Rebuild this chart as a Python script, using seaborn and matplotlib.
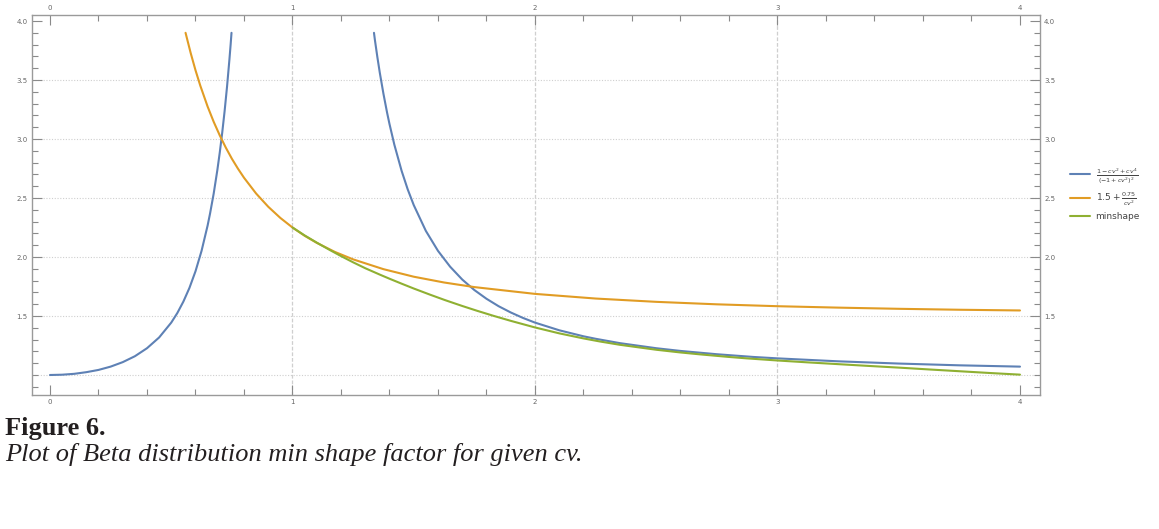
import matplotlib
matplotlib.use("Agg")
import matplotlib.pyplot as plt
from matplotlib.ticker import MultipleLocator, FixedLocator, FixedFormatter
import seaborn as sns
import pandas as pd

# ---- data ----
blue_left_cv = [0.0, 0.05, 0.1, 0.15, 0.2, 0.25, 0.3, 0.35, 0.4, 0.45, 0.5, 0.525, 0.55, 0.575, 0.6, 0.625,
                0.65, 0.66, 0.675, 0.69, 0.7, 0.71, 0.72, 0.73, 0.74, 0.745, 0.7485]
blue_left_val = [1.0, 1.0025, 1.010, 1.024, 1.043, 1.071, 1.109, 1.159, 1.227, 1.318, 1.444, 1.525, 1.622, 1.738,
                 1.879, 2.052, 2.267, 2.368, 2.537, 2.735, 2.884, 3.050, 3.235, 3.442, 3.676, 3.803, 3.9]
blue_right_cv = [1.336, 1.34, 1.35, 1.36, 1.375, 1.39, 1.4, 1.42, 1.45, 1.475, 1.5, 1.55, 1.6, 1.65, 1.7, 1.75,
                 1.8, 1.85, 1.9, 1.95, 2.0, 2.1, 2.2, 2.25, 2.35, 2.5, 2.6, 2.75, 2.9, 3.0, 3.25, 3.5, 3.75, 4.0]
blue_right_val = [3.9, 3.837, 3.694, 3.562, 3.384, 3.224, 3.127, 2.952, 2.730, 2.574, 2.44, 2.221, 2.052, 1.918,
                  1.809, 1.720, 1.646, 1.583, 1.530, 1.484, 1.444, 1.379, 1.328, 1.307, 1.270, 1.227, 1.204,
                  1.176, 1.153, 1.141, 1.116, 1.097, 1.082, 1.071]
orange_cv = [0.559, 0.58, 0.6, 0.62, 0.65, 0.675, 0.7, 0.725, 0.75, 0.775, 0.8, 0.85, 0.9, 0.95, 1.0, 1.05,
             1.1, 1.175, 1.25, 1.375, 1.5, 1.625, 1.75, 2.0, 2.25, 2.5, 2.75, 3.0, 3.25, 3.5, 3.75, 4.0]
orange_val = [3.9, 3.730, 3.583, 3.451, 3.275, 3.146, 3.031, 2.927, 2.833, 2.749, 2.672, 2.538, 2.426, 2.331,
              2.25, 2.180, 2.120, 2.043, 1.98, 1.897, 1.833, 1.784, 1.745, 1.6875, 1.648, 1.62, 1.599, 1.583,
              1.571, 1.561, 1.553, 1.547]
green_cv = [1.0, 1.05, 1.1, 1.155, 1.2, 1.25, 1.3, 1.361, 1.4, 1.45, 1.5, 1.567, 1.63, 1.7, 1.76, 1.828, 1.9,
            2.0, 2.1, 2.2, 2.268, 2.35, 2.5, 2.6, 2.68, 2.8, 2.873, 3.0, 3.125, 3.25, 3.375, 3.505, 3.625,
            3.75, 3.875, 4.0]
green_val = [2.25, 2.183, 2.122, 2.058, 2.008, 1.955, 1.905, 1.850, 1.816, 1.774, 1.733, 1.681, 1.634, 1.585,
             1.545, 1.502, 1.459, 1.403, 1.353, 1.310, 1.284, 1.256, 1.214, 1.191, 1.175, 1.153, 1.141, 1.123,
             1.107, 1.092, 1.077, 1.062, 1.047, 1.032, 1.017, 1.003]

x_major = [0, 1, 2, 3, 4]
y_major = [1.5, 2.0, 2.5, 3.0, 3.5, 4.0]
y_grid = [1.0, 1.5, 2.0, 2.5, 3.0, 3.5]
x_grid = [1, 2, 3]

labels = [r"$\frac{1-cv^2+cv^4}{(-1+cv^2)^2}$", r"$1.5+\frac{0.75}{cv^2}$", "minshape"]
colors = ["#5E81B5", "#E19C24", "#8FB032"]

sns.set_theme(style="white")
plt.rcParams['font.family'] = ['DejaVu Sans']

fig = plt.figure(figsize=(11.59, 5.29), dpi=100)
ax = fig.add_axes([32/1159, 1-395/529, (1040-32)/1159, (395-15)/529])

df_bl = pd.DataFrame({"cv": blue_left_cv, "v": blue_left_val})
df_br = pd.DataFrame({"cv": blue_right_cv, "v": blue_right_val})
df_o = pd.DataFrame({"cv": orange_cv, "v": orange_val})
df_g = pd.DataFrame({"cv": green_cv, "v": green_val})

lw = 1.5
sns.lineplot(data=df_bl, x="cv", y="v", ax=ax, color=colors[0], lw=lw, sort=False, estimator=None, label=labels[0])
sns.lineplot(data=df_br, x="cv", y="v", ax=ax, color=colors[0], lw=lw, sort=False, estimator=None)
sns.lineplot(data=df_o, x="cv", y="v", ax=ax, color=colors[1], lw=lw, sort=False, estimator=None, label=labels[1])
sns.lineplot(data=df_g, x="cv", y="v", ax=ax, color=colors[2], lw=lw, sort=False, estimator=None, label=labels[2])

ax.set_xlim(-0.0742, 4.0825)
ax.set_ylim(0.8305, 4.051)
ax.set_xlabel("")
ax.set_ylabel("")

# gridlines
for yg in y_grid:
    ax.axhline(yg, color="#cfcfcf", lw=0.8, ls=(0, (1, 1.5)), zorder=0)
for xg in x_grid:
    ax.axvline(xg, color="#cfcfcf", lw=0.9, ls=(0, (3, 1.5)), zorder=0)

ax.xaxis.set_major_locator(FixedLocator(x_major))
ax.xaxis.set_minor_locator(MultipleLocator(0.2))
ax.yaxis.set_major_locator(FixedLocator(y_major))
ax.yaxis.set_major_formatter(FixedFormatter([f"{v:.1f}" for v in y_major]))
ax.yaxis.set_minor_locator(MultipleLocator(0.1))

ax.tick_params(which="both", direction="in", top=True, right=True, bottom=True, left=True,
               labeltop=True, labelright=True, color="#8a8a8a", width=0.8)
ax.tick_params(which="major", length=7, labelsize=5, labelcolor="#666666", pad=3)
ax.tick_params(which="minor", length=4)

for s in ax.spines.values():
    s.set_color("#9a9a9a")
    s.set_linewidth(1.0)

leg = ax.legend(loc="center left", bbox_to_anchor=(1.022, 0.53), frameon=False,
                fontsize=6.5, handlelength=2.2, labelspacing=0.5, handletextpad=0.6)
for t in leg.get_texts():
    t.set_color("#444444")

fig.text(5/1159, 1-429/529, "Figure 6.", fontsize=19, fontweight="bold",
         family="Liberation Serif", color="#231f20", va="center", ha="left")
fig.text(5/1159, 1-455/529, "Plot of Beta distribution min shape factor for given cv.", fontsize=19,
         style="italic", family="Liberation Serif", color="#231f20", va="center", ha="left")

fig.savefig("out.png", dpi=100)
